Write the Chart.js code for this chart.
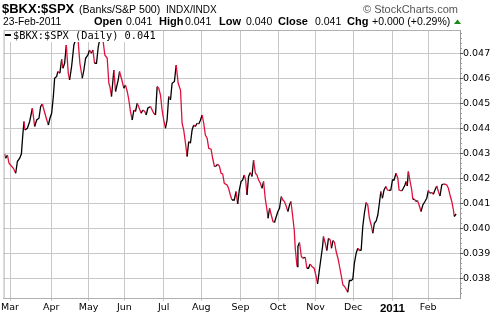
<!DOCTYPE html>
<html>
<head>
<meta charset="utf-8">
<script src="https://cdn.jsdelivr.net/npm/chart.js@4"></script>
<style>
  html, body { margin: 0; padding: 0; background: #fff; }
  #wrap { width: 494px; height: 314px; }
</style>
</head>
<body>
<div id="wrap"><canvas id="chart" width="494" height="314"></canvas></div>
<script>
// --- dados (índice do pregão a partir de 1-Mar-2010, razão BKX/SPX) ---
const days = [
  -3.0, -2.4, -1.45, -0.56, 0.78, 1.9, 3.18, 4.13, 5.42, 6.37,
  7.09, 7.82, 8.38, 9.72, 11.0, 12.51, 13.8, 14.92, 16.2, 17.15,
  18.1, 19.0, 20.3, 21.45, 22.35, 23.3, 24.25, 24.97, 26.1, 26.8,
  27.9, 28.9, 29.6, 30.56, 31.5, 32.6, 33.35, 34.47, 35.75, 37.26,
  38.0, 39.1, 40.45, 41.34, 42.3, 43.6, 44.5, 45.5, 46.4, 47.3,
  48.4, 49.4, 50.4, 51.2, 51.96, 53.07, 54.4, 55.3, 55.87, 56.8,
  58.1, 59.05, 60.56, 61.28, 62.8, 63.7, 64.6, 65.6, 66.5, 67.4,
  68.4, 69.3, 70.2, 71.2, 72.1, 73.4, 74.3, 75.4, 76.2, 77.1,
  78.6, 79.55, 80.45, 81.4, 82.35, 83.24, 84.2, 85.1, 86.0, 87.0,
  87.9, 88.8, 89.8, 90.7, 92.0, 93.0, 94.1, 95.4, 96.3, 97.2,
  98.2, 99.1, 100.0, 100.95, 101.9, 102.8, 103.7, 104.7, 105.6, 106.5,
  107.5, 108.4, 109.3, 110.3, 111.2, 112.5, 113.4, 114.4, 115.3, 116.2,
  117.15, 118.1, 119.0, 119.9, 121.45, 122.3, 123.3, 124.2, 125.5, 126.5,
  127.4, 128.3, 129.3, 130.2, 131.1, 131.85, 132.6, 133.5, 134.5, 135.4,
  136.3, 137.3, 138.2, 139.1, 140.1, 141.0, 141.9, 142.8, 143.8, 144.4,
  145.25, 146.2, 147.15, 148.0, 149.0, 149.9, 150.8, 151.8, 152.7, 153.6,
  154.6, 155.5, 156.4, 157.2, 158.1, 159.05, 159.6, 160.6, 161.1, 162.0,
  163.0, 163.9, 165.2, 166.1, 167.0, 168.0, 168.9, 170.2, 171.3, 172.1,
  173.0, 174.0, 174.9, 175.4, 176.4, 177.3, 178.2, 179.2, 179.9, 180.7,
  181.6, 182.5, 183.5, 184.4, 185.3, 186.3, 187.2, 188.1, 189.0, 189.9,
  190.9, 191.8, 192.7, 193.7, 194.6, 195.5, 196.5, 197.4, 198.3, 199.3,
  200.2, 201.1, 202.1, 203.0, 203.9, 204.9, 205.8, 206.7, 207.5, 208.4,
  209.3, 210.3, 211.2, 212.1, 213.1, 214.0, 214.9, 216.0, 217.0, 217.7,
  219.2, 220.1, 221.0, 221.6, 222.3, 222.9, 223.9, 224.8, 225.4, 226.3,
  227.2, 228.0, 228.9, 230.0, 231.0, 232.2, 233.2, 234.1, 235.0, 236.0,
  236.9, 237.8, 238.8, 239.7, 240.6, 241.6, 242.5, 243.4, 244.4, 245.3,
  246.2, 247.2, 248.1, 248.6, 249.6
];
const ratio = [
  0.04297, 0.04280, 0.04293, 0.04260, 0.04249, 0.04240, 0.04220, 0.04267, 0.04280, 0.04297,
  0.04367, 0.04427, 0.04393, 0.04400, 0.04427, 0.04480, 0.04407, 0.04433, 0.04440, 0.04487,
  0.04497, 0.04473, 0.04440, 0.04413, 0.04440, 0.04460, 0.04527, 0.04600, 0.04607, 0.04627,
  0.04620, 0.04676, 0.04640, 0.04660, 0.04733, 0.04620, 0.04593, 0.04647, 0.04733, 0.04767,
  0.04761, 0.04660, 0.04600, 0.04633, 0.04680, 0.04693, 0.04713, 0.04700, 0.04713, 0.04660,
  0.04660, 0.04727, 0.04761, 0.04765, 0.04756, 0.04693, 0.04680, 0.04580, 0.04567, 0.04527,
  0.04633, 0.04547, 0.04593, 0.04627, 0.04587, 0.04560, 0.04573, 0.04547, 0.04513, 0.04467,
  0.04433, 0.04473, 0.04467, 0.04500, 0.04484, 0.04460, 0.04473, 0.04467, 0.04453, 0.04480,
  0.04487, 0.04473, 0.04460, 0.04453, 0.04567, 0.04560, 0.04533, 0.04473, 0.04433, 0.04400,
  0.04433, 0.04527, 0.04513, 0.04580, 0.04587, 0.04653, 0.04580, 0.04553, 0.04420, 0.04393,
  0.04340, 0.04287, 0.04347, 0.04340, 0.04393, 0.04413, 0.04407, 0.04420, 0.04417, 0.04431,
  0.04453, 0.04420, 0.04373, 0.04360, 0.04320, 0.04316, 0.04280, 0.04247, 0.04249, 0.04256,
  0.04249, 0.04220, 0.04217, 0.04180, 0.04173, 0.04160, 0.04133, 0.04113, 0.04113, 0.04147,
  0.04097, 0.04153, 0.04187, 0.04193, 0.04213, 0.04193, 0.04133, 0.04207, 0.04223, 0.04207,
  0.04273, 0.04220, 0.04213, 0.04193, 0.04180, 0.04160, 0.04187, 0.04120, 0.04073, 0.04040,
  0.04080, 0.04053, 0.04027, 0.04023, 0.04047, 0.04067, 0.04080, 0.04127, 0.04113, 0.04107,
  0.04087, 0.04067, 0.04093, 0.04107, 0.04053, 0.03993, 0.03921, 0.03847, 0.03927, 0.03943,
  0.03887, 0.03880, 0.03884, 0.03840, 0.03840, 0.03857, 0.03847, 0.03840, 0.03807, 0.03777,
  0.03827, 0.03880, 0.03927, 0.03967, 0.03940, 0.03911, 0.03960, 0.03953, 0.03920, 0.03951,
  0.03943, 0.03907, 0.03880, 0.03847, 0.03813, 0.03773, 0.03767, 0.03756, 0.03744, 0.03791,
  0.03791, 0.03796, 0.03860, 0.03900, 0.03920, 0.03911, 0.03913, 0.04007, 0.04060, 0.04103,
  0.04093, 0.04040, 0.04013, 0.03980, 0.04020, 0.04029, 0.04053, 0.04100, 0.04147, 0.04120,
  0.04153, 0.04167, 0.04153, 0.04151, 0.04153, 0.04193, 0.04193, 0.04220, 0.04200, 0.04153,
  0.04149, 0.04160, 0.04173, 0.04187, 0.04169, 0.04227, 0.04187, 0.04153, 0.04116, 0.04116,
  0.04107, 0.04111, 0.04093, 0.04067, 0.04093, 0.04107, 0.04120, 0.04151, 0.04140, 0.04143,
  0.04136, 0.04153, 0.04169, 0.04147, 0.04129, 0.04173, 0.04177, 0.04176, 0.04173, 0.04160,
  0.04133, 0.04107, 0.04073, 0.04047, 0.04057
];

// eixo X: primeiro pregão de cada mês
const monthStarts = [0, 23, 44, 64, 86, 107, 129, 150, 171, 192, 214, 234];
const monthLabels = ["Mar", "Apr", "May", "Jun", "Jul", "Aug", "Sep", "Oct", "Nov", "Dec", "2011", "Feb"];
const yTicks = [0.038, 0.039, 0.040, 0.041, 0.042, 0.043, 0.044, 0.045, 0.046, 0.047];

const UP = "#000000";
const DOWN = "#e0103c";
const GRID = "#c8c8c8";

const n = Math.min(days.length, ratio.length);
const points = [];
for (let i = 0; i < n; i++) points.push({ x: days[i], y: ratio[i] });

// cabeçalho, caixa da legenda, moldura e marquinhas do eixo
const decorPlugin = {
  id: "decor",
  beforeDraw(chart) {
    const c = chart.ctx;
    c.save();
    c.fillStyle = "#fff";
    c.fillRect(0, 0, chart.width, chart.height);
    c.restore();
  },
  afterDraw(chart) {
    const c = chart.ctx;
    const a = chart.chartArea;
    const ys = chart.scales.y;
    c.save();

    // caixa da legenda (cobre grade e linha)
    c.fillStyle = "#fff";
    c.fillRect(a.left + 1, a.top + 1, 155, 11);
    c.fillStyle = "#000";
    c.fillRect(5, 34, 6, 2);
    c.font = "10.3px 'DejaVu Sans Mono'";
    c.textBaseline = "alphabetic";
    c.fillText("$BKX:$SPX (Daily) 0.041", 13, 39);

    // moldura esquerda/topo
    c.strokeStyle = "#b0b0b0";
    c.lineWidth = 1;
    c.beginPath();
    c.moveTo(a.left + 0.5, a.bottom);
    c.lineTo(a.left + 0.5, a.top + 0.5);
    c.lineTo(a.right, a.top + 0.5);
    c.stroke();

    // marquinhas do eixo direito
    c.strokeStyle = "#999";
    c.beginPath();
    for (let v = 0.0374; v < 0.0479; v += 0.0002) {
      const py = Math.round(ys.getPixelForValue(v)) + 0.5;
      c.moveTo(a.right, py);
      c.lineTo(a.right + 2, py);
    }
    c.stroke();
    c.strokeStyle = "#555";
    c.beginPath();
    yTicks.forEach((v) => {
      const py = Math.round(ys.getPixelForValue(v)) + 0.5;
      c.moveTo(a.right, py);
      c.lineTo(a.right + 3, py);
    });
    c.stroke();

    // título
    c.fillStyle = "#000";
    c.font = "bold 13px 'Liberation Sans'";
    c.fillText("$BKX:$SPX", 2, 13);
    c.font = "10.6px 'Liberation Sans'";
    c.fillText("(Banks/S&P 500)", 79, 13);
    c.font = "10px 'Liberation Sans'";
    c.fillText("INDX/INDX", 166, 13);
    c.fillStyle = "#555";
    c.font = "11px 'Liberation Sans'";
    c.fillText("\u00a9 StockCharts.com", 363, 13);

    // linha de cotação
    c.fillStyle = "#000";
    c.font = "10.3px 'Liberation Sans'";
    c.fillText("23-Feb-2011", 3, 25);
    const parts = [
      ["Open", 94, "0.041", 126],
      ["High", 159, "0.041", 185],
      ["Low", 219, "0.040", 246],
      ["Close", 278, "0.041", 315],
      ["Chg", 347, "+0.000 (+0.29%)", 372],
    ];
    parts.forEach((p) => {
      c.font = "bold 11px 'Liberation Sans'";
      c.fillText(p[0], p[1], 25);
      c.font = "10.5px 'Liberation Sans'";
      c.fillText(p[2], p[3], 25);
    });
    c.fillStyle = "#1a8a1a";
    c.beginPath();
    c.moveTo(454, 24);
    c.lineTo(461, 24);
    c.lineTo(457.5, 19.5);
    c.closePath();
    c.fill();

    c.restore();
  },
};

new Chart(document.getElementById("chart"), {
  type: "line",
  data: {
    datasets: [
      {
        label: "$BKX:$SPX",
        data: points,
        borderWidth: 1.3,
        pointRadius: 0,
        tension: 0,
        borderColor: UP,
        segment: {
          borderColor: (ctx) => (ctx.p1.parsed.y < ctx.p0.parsed.y ? DOWN : UP),
        },
      },
    ],
  },
  options: {
    responsive: false,
    animation: false,
    devicePixelRatio: 1,
    layout: { padding: { top: 30, left: 3, right: 0, bottom: 0 } },
    plugins: { legend: { display: false }, tooltip: { enabled: false } },
    scales: {
      x: {
        type: "linear",
        position: "bottom",
        min: -3.6,
        max: 251.8,
        afterBuildTicks: (s) => {
          s.ticks = monthStarts.map((v) => ({ value: v }));
        },
        afterFit: (s) => {
          s.height = 16;
        },
        ticks: {
          autoSkip: false,
          maxRotation: 0,
          padding: 1,
          color: "#000",
          callback: (v, i) => monthLabels[i],
          font: (ctx) =>
            ctx.index === 10
              ? { family: "'Liberation Sans'", size: 11.5, weight: "bold" }
              : { family: "'DejaVu Sans'", size: 9.5 },
        },
        grid: { color: GRID, tickLength: 3, drawTicks: true },
        border: { color: "#b0b0b0" },
      },
      y: {
        type: "linear",
        position: "right",
        min: 0.03721,
        max: 0.04793,
        afterBuildTicks: (s) => {
          s.ticks = yTicks.map((v) => ({ value: v }));
        },
        afterFit: (s) => {
          s.width = 34;
        },
        ticks: {
          padding: 3,
          color: "#000",
          font: { family: "'DejaVu Sans'", size: 9.5 },
          callback: (v) => v.toFixed(3),
        },
        grid: { color: GRID, drawTicks: false },
        border: { color: "#999" },
      },
    },
  },
  plugins: [decorPlugin],
});
</script>
</body>
</html>
